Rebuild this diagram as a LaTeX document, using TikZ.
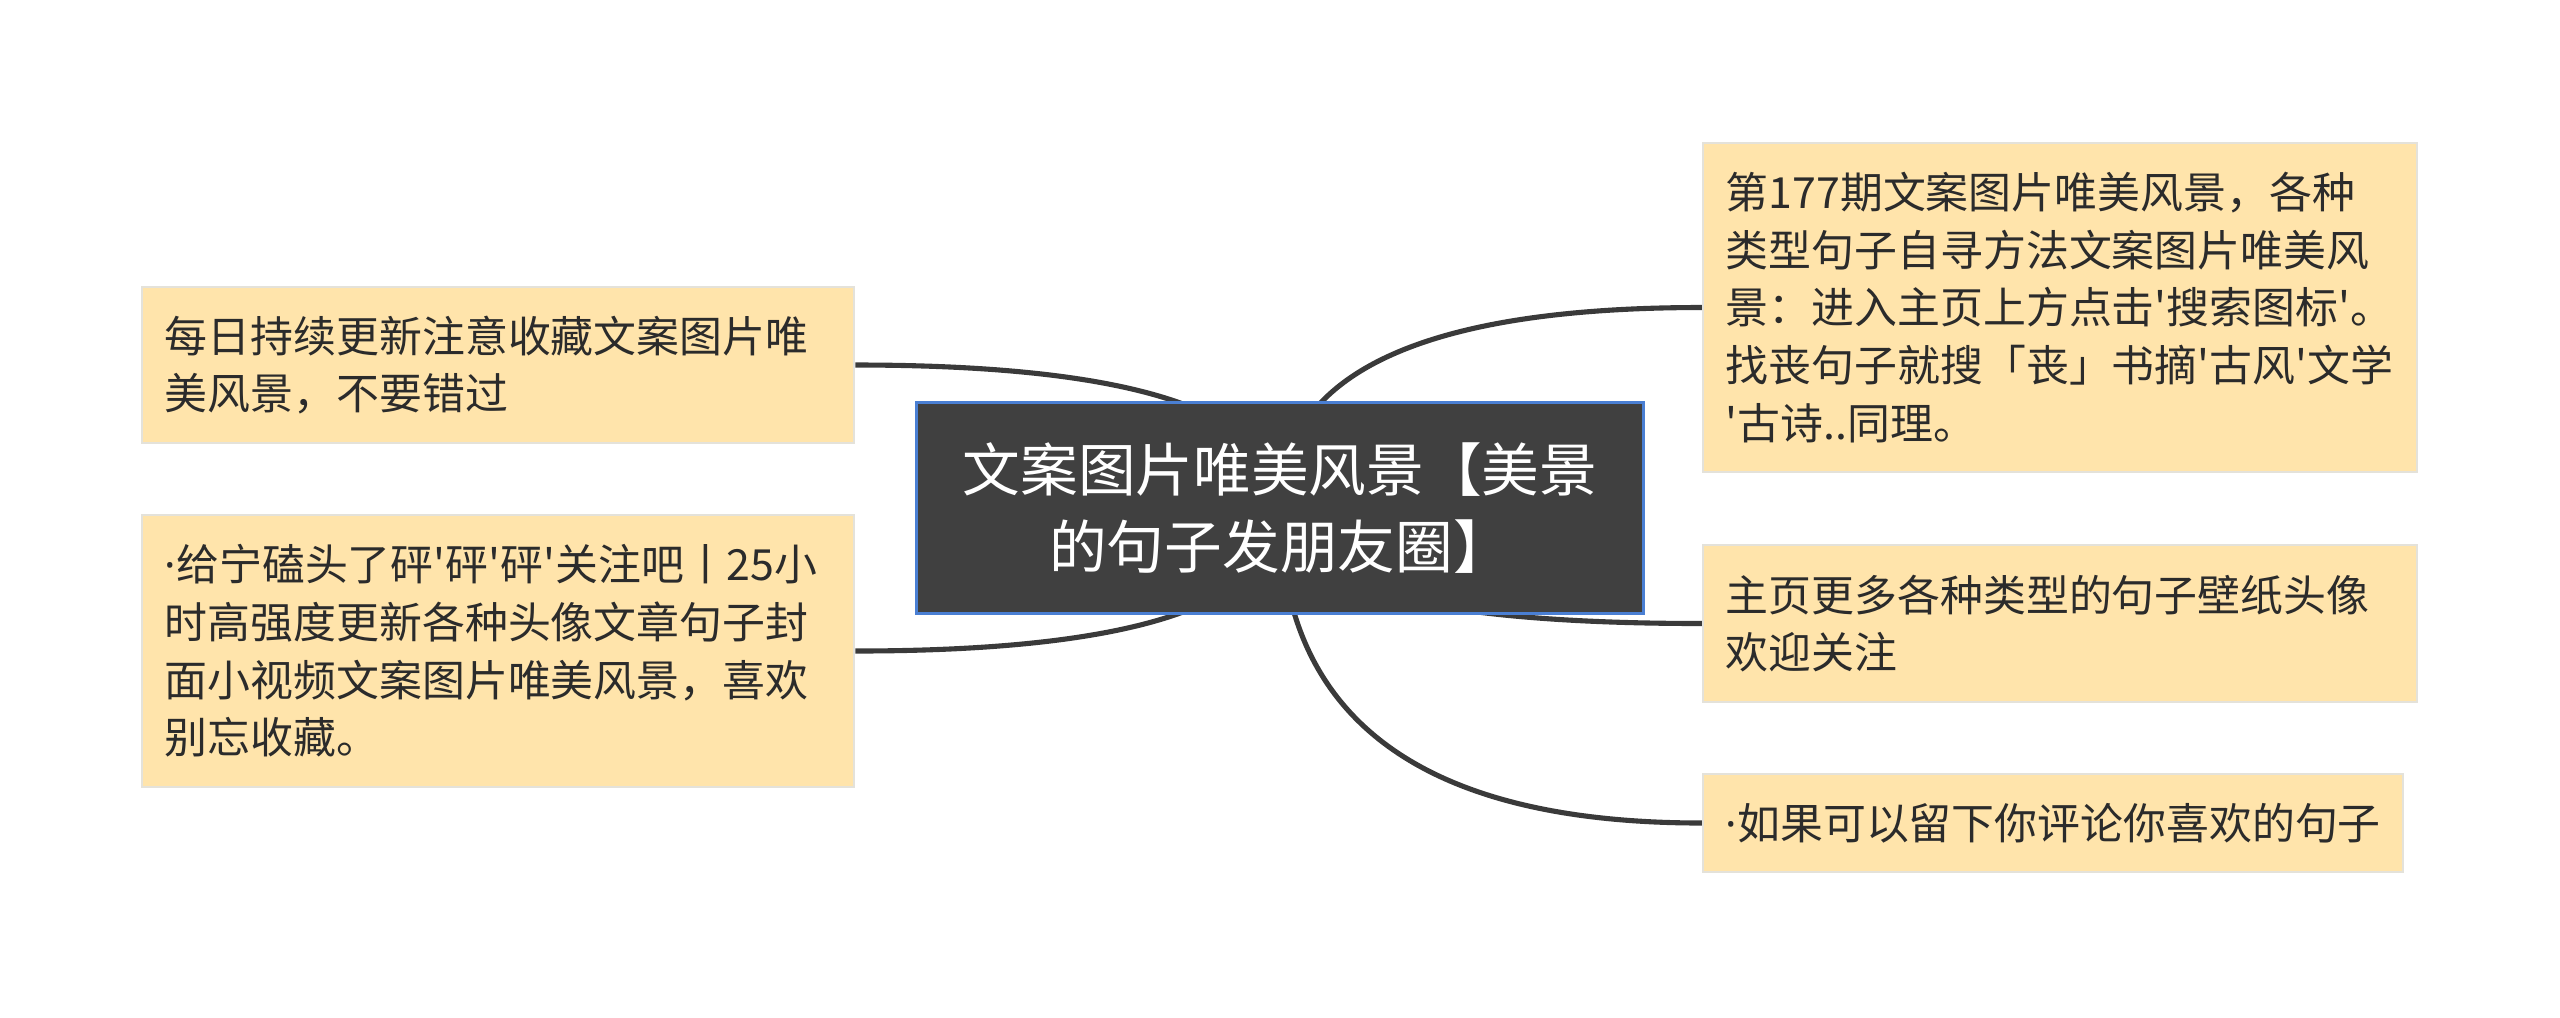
\documentclass[tikz,border=0pt]{standalone}
\usepackage{fontspec}
\usepackage{tikz}
\usetikzlibrary{calc,backgrounds}
\usepackage{xcolor}
\newfontfamily\cjk[Ligatures=TeXOff]{Noto Sans CJK SC}
\newfontfamily\latin{Noto Sans}
\definecolor{leaffill}{HTML}{FFE4AB}
\definecolor{leafline}{HTML}{E4E2DA}
\definecolor{leaftext}{HTML}{2B2B2B}
\definecolor{rootfill}{HTML}{404040}
\definecolor{rootline}{HTML}{4A7FD3}
\definecolor{branchline}{HTML}{3A3A3A}
\newcommand{\leaffont}{\cjk\fontsize{12.2pt}{16.4pt}\selectfont}
\newcommand{\rootfont}{\cjk\fontsize{16.4pt}{21.9pt}\selectfont}
\newcommand{\middot}{{\latin ·}}
\tikzset{
  leaf/.style={draw=leafline, line width=0.6pt, fill=leaffill, text=leaftext, align=left, inner xsep=0.23cm, inner ysep=0pt, font=\leaffont},
  rootbox/.style={draw=rootline, line width=0.85pt, fill=rootfill, text=white, align=center, minimum width=7.27cm, minimum height=2.10cm, font=\rootfont},
  branch/.style={draw=branchline, line width=1.45pt}
}
\begin{document}
\begin{tikzpicture}[x=0.01cm,y=-0.01cm]
\useasboundingbox (0,0) rectangle (2560,1017);

%Central topic
\node[rootbox] (root) at (1280,508) {文案图片唯美风景【美景\\的句子发朋友圈】};

%Left topic 1
\node[leaf, text width=6.66cm, minimum height=1.56cm] (left1) at (498,365) {每日持续更新注意收藏文案图片唯\\美风景，不要错过};

%Left topic 2
\node[leaf, text width=6.66cm, minimum height=2.72cm] (left2) at (498,651) {\middot 给宁磕头了砰'砰'砰'关注吧丨25小\\时高强度更新各种头像文章句子封\\面小视频文案图片唯美风景，喜欢\\别忘收藏。};

%Right topic 1
\node[leaf, text width=6.68cm, minimum height=3.29cm] (right1) at (2060,307.5) {第177期文案图片唯美风景，各种\\类型句子自寻方法文案图片唯美风\\景：进入主页上方点击'搜索图标'。\\找丧句子就搜「丧」书摘'古风'文学\\'古诗..同理。};

%Right topic 2
\node[leaf, text width=6.68cm, minimum height=1.57cm] (right2) at (2060,623.5) {主页更多各种类型的句子壁纸头像\\欢迎关注};

%Right topic 3
\node[leaf, text width=6.54cm, minimum height=0.98cm] (right3) at (2053,823) {\middot 如果可以留下你评论你喜欢的句子};

%Branches
\begin{scope}[on background layer]
\foreach \leafname/\side in {left1/east, left2/east, right1/west, right2/west, right3/west}
  \draw[branch] (root.center) .. controls ($(root.center)!2/3!(root.center |- \leafname.\side)$) and ($(\leafname.\side)!2/3!(root.center |- \leafname.\side)$) .. (\leafname.\side);
\end{scope}
\end{tikzpicture}
\end{document}
